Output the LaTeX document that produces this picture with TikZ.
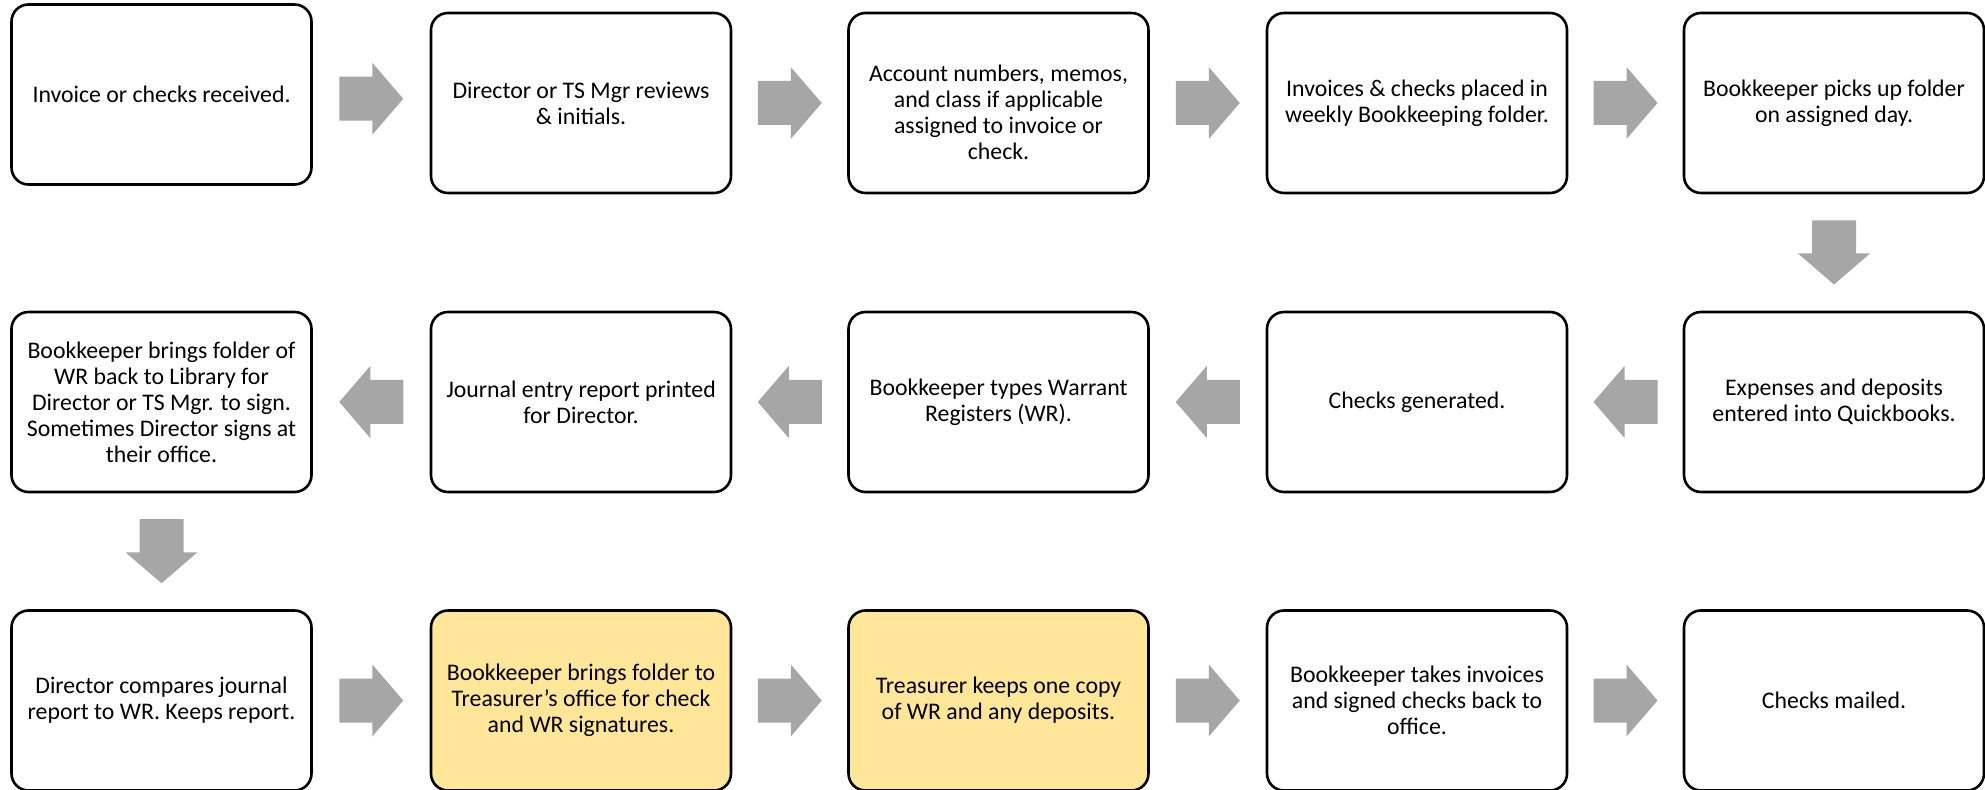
\documentclass[tikz,border=0pt]{standalone}
\usepackage{fontspec}
\setmainfont{Carlito}
\usetikzlibrary{calc}
\definecolor{arrowgray}{HTML}{A6A6A6}
\definecolor{signyellow}{HTML}{FFE699}
% block arrow half way between two anchors, #3 = direction angle
\newcommand{\flowarrow}[3]{%
  \coordinate (mid) at ($(#1)!0.5!(#2)$);
  \fill[arrowgray,shift={(mid)},rotate=#3] (-32,-22) -- (1,-22) -- (1,-36) -- (32,0)
    -- (1,36) -- (1,22) -- (-32,22) -- cycle;}

\begin{document}
\begin{tikzpicture}[x=0.5pt,y=-0.5pt,
    stepbox/.style={draw,line width=1.3pt,rounded corners=8.5pt,fill=white,
      minimum width=150pt,minimum height=90pt,inner sep=0pt,align=center,
      font=\fontsize{11.9pt}{13pt}\selectfont},
    signbox/.style={stepbox,fill=signyellow}]
  \useasboundingbox (0,0) rectangle (1985,790);

  % first row
  \node[stepbox] (invoice) at (161.5,94.5) {Invoice or checks received.};
  \node[stepbox] (review) at (581,103) {Director or TS Mgr reviews\\ \& initials.};
  \node[stepbox] (account) at (998.5,103) {\rule{0pt}{17.5pt}Account numbers, memos,\\ and class if applicable\\ assigned to invoice or\\ check.};
  \node[stepbox] (folder) at (1417,103) {Invoices \& checks placed in\\ weekly Bookkeeping folder.};
  \node[stepbox] (pickup) at (1834,103) {Bookkeeper picks up folder\\ on assigned day.};

  % second row, right to left
  \node[stepbox] (entered) at (1834,402) {Expenses and deposits\\ entered into Quickbooks.};
  \node[stepbox] (checks) at (1417,402) {Checks generated.};
  \node[stepbox] (registers) at (998.5,402) {Bookkeeper types Warrant\\ Registers (WR).};
  \node[stepbox] (journal) at (581,402) {Journal entry report printed\\ for Director.};
  \node[stepbox] (library) at (161.5,402) {Bookkeeper brings folder of\\ WR back to Library for\\ Director or TS Mgr. to sign.\\ Sometimes Director signs at\\ their office.};

  % third row
  \node[stepbox] (compare) at (161.5,700.5) {Director compares journal\\ report to WR. Keeps report.};
  \node[signbox] (treasurer) at (581,700.5) {Bookkeeper brings folder to\\ Treasurer’s office for check\\ and WR signatures.};
  \node[signbox] (copy) at (998.5,700.5) {Treasurer keeps one copy\\ of WR and any deposits.};
  \node[stepbox] (back) at (1417,700.5) {Bookkeeper takes invoices\\ and signed checks back to\\ office.};
  \node[stepbox] (mailed) at (1834,700.5) {Checks mailed.};

  \flowarrow{invoice.east}{review.west}{0}
  \flowarrow{review.east}{account.west}{0}
  \flowarrow{account.east}{folder.west}{0}
  \flowarrow{folder.east}{pickup.west}{0}
  \flowarrow{pickup.south}{entered.north}{-90}
  \flowarrow{entered.west}{checks.east}{180}
  \flowarrow{checks.west}{registers.east}{180}
  \flowarrow{registers.west}{journal.east}{180}
  \flowarrow{journal.west}{library.east}{180}
  \flowarrow{library.south}{compare.north}{-90}
  \flowarrow{compare.east}{treasurer.west}{0}
  \flowarrow{treasurer.east}{copy.west}{0}
  \flowarrow{copy.east}{back.west}{0}
  \flowarrow{back.east}{mailed.west}{0}
\end{tikzpicture}
\end{document}
